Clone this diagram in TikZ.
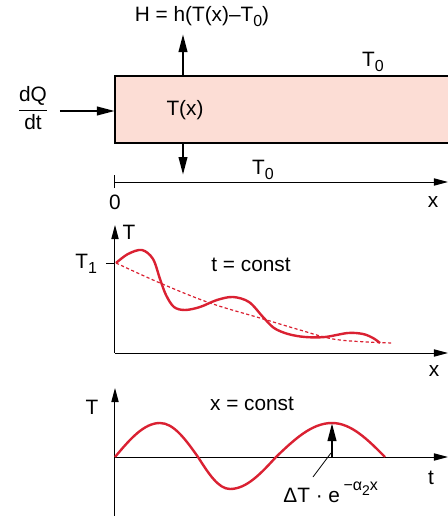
\documentclass[tikz,border=0pt]{standalone}
\usepackage{fontspec}
\setmainfont{Liberation Sans}
\usepackage{tikz}
\usetikzlibrary{arrows.meta}
\definecolor{RodFill}{HTML}{FCDDD5}
\definecolor{CurveRed}{HTML}{DA2132}
\newcommand{\lsub}[1]{\raisebox{-.45ex}{\footnotesize #1}}

\begin{document}
\begin{tikzpicture}[x=0.5pt,y=0.5pt,font=\fontsize{10.4}{12.5}\selectfont,
  axis/.style={-{Triangle[length=7pt,width=3.6pt]},line width=.5pt},
  flow/.style={-{Triangle[length=9pt,width=4.2pt]},line width=1.3pt},
  curve/.style={CurveRed,line width=1.2pt}]
\path[use as bounding box] (0,0) rectangle (448,516);
% rod
\fill[RodFill] (115,373) rectangle (448,440);
\draw[line width=1.3pt] (448,440) -- (115,440) -- (115,373) -- (448,373);
\coordinate (rodtop) at (183,440);
\coordinate (rodbot) at (183,373);
\coordinate (rodin) at (115,405);
\coordinate (heattip) at (183,482);
\coordinate (cooltip) at (183,341);
\coordinate (fluxstart) at (60,405);
\node (heat) at (202,499) {H = h(T(x)–T\lsub{0})};
\node (rodT) at (185,406) {T(x)};
\node (Tzeroup) at (373,454) {T\lsub{0}};
\node (Tzerolow) at (263,346) {T\lsub{0}};
\node (flux) at (33,408) {$\displaystyle\frac{\mbox{dQ}}{\mbox{dt}}$};
\draw[flow] (rodtop) -- (heattip);
\draw[flow] (rodbot) -- (cooltip);
\draw[flow] (fluxstart) -- (rodin);
% position axis
\coordinate (xorig) at (115,334);
\coordinate (xend) at (448,334);
\draw[axis] (xorig) -- (xend);
\draw[line width=.5pt] (115,328) -- (115,341);
\node (xzero) at (115,314) {0};
\node (xlab) at (433,314) {x};
% T over x
\coordinate (gorig) at (115,163);
\coordinate (gtop) at (115,291);
\coordinate (gend) at (448,163);
\draw[axis] (gorig) -- (gtop);
\draw[axis] (gorig) -- (gend);
\draw[line width=.5pt] (106,253) -- (115,253);
\node[anchor=east] (Tone) at (104,252) {T\lsub{1}};
\node (gT) at (129,284) {T};
\node (gx) at (434,145) {x};
\node (tconst) at (251,251) {t = const};
\draw[CurveRed,line width=.6pt,dash pattern=on 1.6pt off 1.2pt]
  plot[smooth,tension=.6] coordinates {(116,253) (160,233) (210,213) (260,198) (300,186)
  (333,177) (367,174) (393,173)};
\draw[curve] plot[smooth,tension=.55] coordinates {(116,253) (128,262) (142,266) (153,257)
  (160,237) (166,221) (174,209) (185,206) (200,209) (217,216) (233,219) (249,214)
  (263,199) (274,188) (288,182) (305,179) (325,179) (348,183) (363,182) (373,178) (380,173)};
% T over t
\coordinate (borig) at (115,59);
\coordinate (bbot) at (115,0);
\coordinate (btop) at (115,128);
\coordinate (bend) at (448,59);
\draw[axis] (bbot) -- (btop);
\draw[axis] (borig) -- (bend);
\node (bT) at (92,109) {T};
\node (bt) at (431,38) {t};
\node (xconst) at (252,112) {x = const};
\draw[curve] (115,59) sin (160,93) cos (198,59) sin (230,27) cos (276,59) sin (332,93) cos (385,59);
\coordinate (ampbase) at (332,59);
\coordinate (amptip) at (332,93);
\draw[flow] (ampbase) -- (amptip);
\node[anchor=base west,inner sep=0pt] (amp) at (283,13)
  {ΔT · e\,\raisebox{1.1ex}{\footnotesize −α\raisebox{-.5ex}{\scriptsize 2}x}};
\coordinate (ampfoot) at (313,39);
\draw[line width=.4pt] (331,63) -- (ampfoot);
\end{tikzpicture}
\end{document}
